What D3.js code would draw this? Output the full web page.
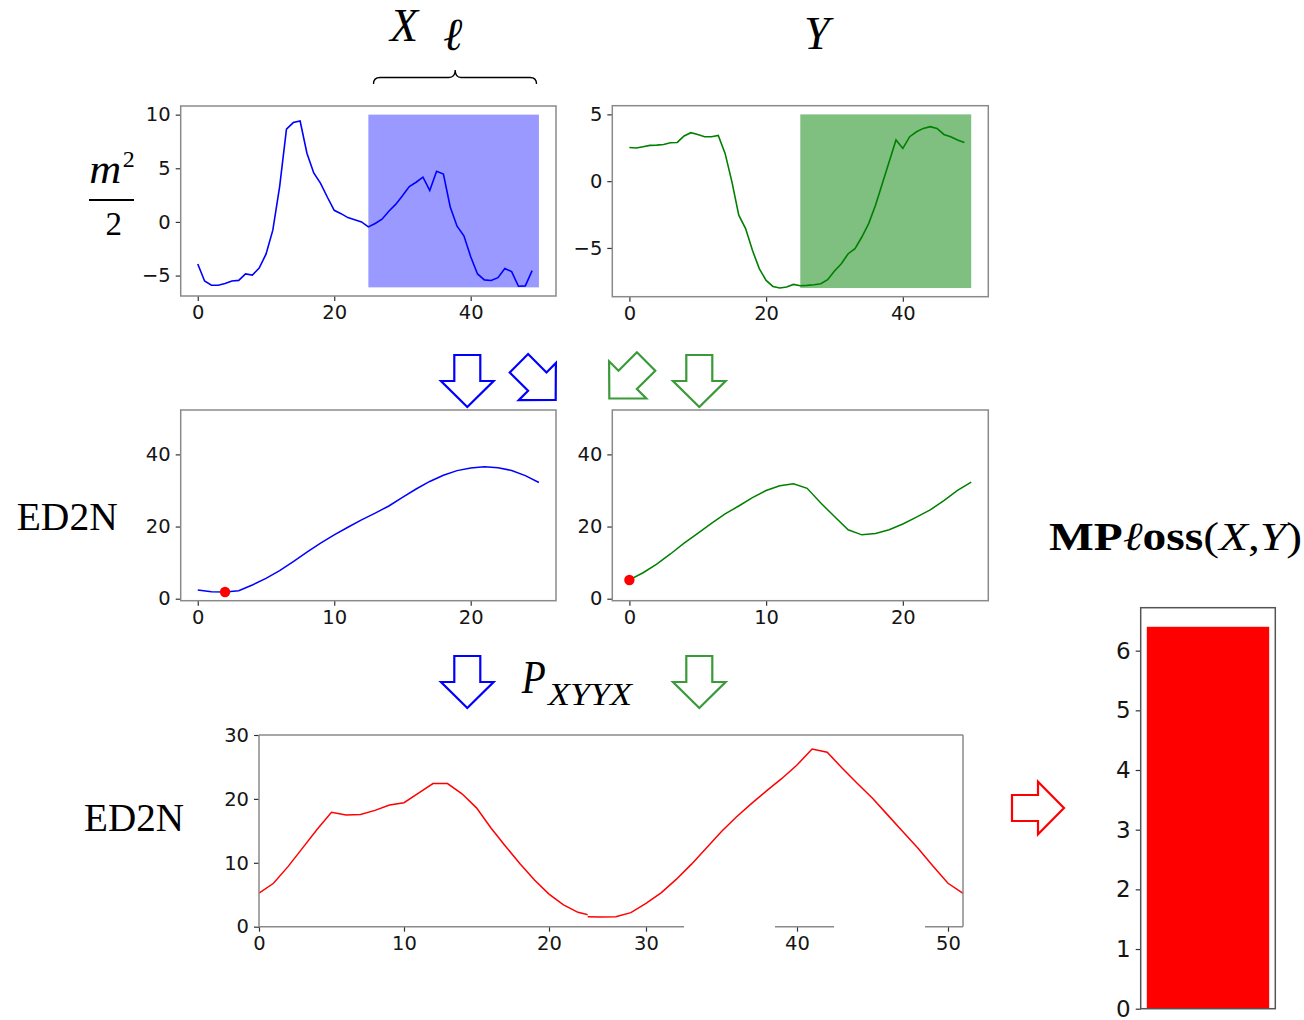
<!DOCTYPE html>
<html><head><meta charset="utf-8">
<script src="https://cdn.jsdelivr.net/npm/d3@7"></script>
<style>body{margin:0;background:#fff}svg{display:block}</style>
</head><body>
<svg id="c" width="1304" height="1020"></svg>
<script>
// ---------- data ----------
const seriesX = [-3.92,-5.5,-5.9,-5.9,-5.75,-5.5,-5.45,-4.85,-4.95,-4.3,-3.0,-0.77,3.3,8.64,9.26,9.4,6.4,4.57,3.6,2.3,1.08,0.77,0.4,0.2,0,-0.46,-0.15,0.25,1.0,1.63,2.44,3.3,3.7,4.17,2.93,4.72,4.47,1.39,-0.4,-1.3,-3.24,-4.85,-5.4,-5.46,-5.2,-4.35,-4.63,-6.0,-5.96,-4.54];
const seriesY = [2.52,2.48,2.58,2.68,2.7,2.75,2.88,2.9,3.38,3.63,3.5,3.33,3.33,3.43,2.08,-0.05,-2.55,-3.55,-5.18,-6.55,-7.43,-7.88,-8.0,-7.93,-7.73,-7.83,-7.8,-7.75,-7.68,-7.38,-6.73,-6.18,-5.43,-5.05,-4.18,-3.18,-1.8,-0.18,1.45,3.08,2.45,3.33,3.7,3.95,4.08,3.95,3.5,3.33,3.08,2.9];
const windowX = [25, 50];          // subsequence window (x range)
const windowYBlue = [-6.1, 10];
const windowYGreen = [-8.0, 5];
const ed2nBlue = [2.4,1.94,1.85,2.2,3.8,5.65,7.8,10.3,12.9,15.4,17.7,19.8,21.85,23.7,25.7,28.1,30.4,32.5,34.2,35.5,36.2,36.6,36.3,35.55,34.1,32.2];
const ed2nGreen = [5.2,7.2,9.6,12.4,15.4,18.1,20.9,23.5,25.7,28.0,30.0,31.3,31.85,30.6,26.5,22.8,19.1,17.7,18.1,19.1,20.7,22.6,24.6,27.2,30.0,32.3];
const minIndex = [2, 0];           // red dots: blue / green
const pxyyx = [5.24,6.8,9.4,12.3,15.2,17.9,17.5,17.55,18.2,19.05,19.4,20.9,22.4,22.4,20.8,18.6,15.45,12.6,9.85,7.3,5.1,3.4,2.25,1.7,1.55,1.5,1.55,1.51,1.57,2.2,3.65,5.3,7.4,9.75,12.3,14.9,17.2,19.3,21.3,23.2,25.3,27.8,27.3,24.8,22.4,20.1,17.5,14.9,12.3,9.5,6.8,5.2];
const mploss = [6.4];
const topXTicks = [0,20,40];
const topLeftYTicks = [-5,0,5,10];
const topRightYTicks = [-5,0,5];
const midXTicks = [0,10,20];
const midYTicks = [0,20,40];
const botXTicksLeft = [0,10,20];
const botXTicksRight = [30,40,50];
const botYTicks = [0,10,20,30];
const barYTicks = [0,1,2,3,4,5,6];

// ---------- helpers ----------
const svg = d3.select("#c");
const TICKFONT = "DejaVu Sans";
const TICKSIZE = 19.5;
const fmt = d => d < 0 ? "\u2212" + Math.abs(d) : String(d);
const FRAME = "#8a8a8a";

function styleAxis(g, size) {
  g.select(".domain").remove();
  g.selectAll(".tick line").attr("stroke", "#333").attr("stroke-width", 1.2);
  g.selectAll(".tick text").attr("font-family", TICKFONT).attr("font-size", size).attr("fill", "#151515");
}
function frame(l, r, t, b, color, w) {
  svg.append("rect").attr("x", l).attr("y", t).attr("width", r - l).attr("height", b - t)
    .attr("fill", "none").attr("stroke", color || FRAME).attr("stroke-width", w || 1.5);
}
function panel(o) {
  const x = d3.scaleLinear().domain(o.xd).range([o.l, o.r]);
  const y = d3.scaleLinear().domain(o.yd).range([o.b, o.t]);
  const gx = svg.append("g").attr("transform", `translate(0,${o.b})`)
    .call(d3.axisBottom(x).tickValues(o.xt).tickSize(5).tickPadding(4).tickFormat(fmt));
  styleAxis(gx, TICKSIZE);
  const gy = svg.append("g").attr("transform", `translate(${o.l},0)`)
    .call(d3.axisLeft(y).tickValues(o.yt).tickSize(5).tickPadding(5).tickFormat(fmt));
  styleAxis(gy, TICKSIZE);
  return {x, y};
}
function arrow(cx, cy, ang, color) {
  const pts = [[-13,-26],[13,-26],[13,0],[26.3,0],[0,26],[-26.3,0],[-13,0]];
  svg.append("path").attr("d", "M" + pts.map(p => p.join(",")).join("L") + "Z")
    .attr("transform", `translate(${cx},${cy}) rotate(${ang})`)
    .attr("fill", "none").attr("stroke", color).attr("stroke-width", 2.2).attr("stroke-linejoin", "miter");
}
function txt(x, y, s, size, opts) {
  opts = opts || {};
  const t = svg.append("text").attr("x", x).attr("y", y).text(s)
    .attr("font-family", opts.family || "Liberation Serif").attr("font-size", size)
    .attr("font-style", opts.italic ? "italic" : "normal").attr("font-weight", opts.bold ? "bold" : "normal")
    .attr("fill", "#000");
  if (opts.len) t.attr("textLength", opts.len).attr("lengthAdjust", "spacingAndGlyphs");
  return t;
}

// ---------- top-left: X ----------
{
  const p = panel({l:180.7, r:556, t:106, b:296, xd:[-2.5,52.5], yd:[-6.905,10.805], xt:topXTicks, yt:topLeftYTicks});
  svg.append("rect").attr("x", p.x(windowX[0])).attr("y", p.y(windowYBlue[1]))
    .attr("width", p.x(windowX[1]) - p.x(windowX[0])).attr("height", p.y(windowYBlue[0]) - p.y(windowYBlue[1]))
    .attr("fill", "#0000ff").attr("fill-opacity", 0.4);
  svg.append("path").datum(seriesX).attr("d", d3.line().x((d,i)=>p.x(i)).y(d=>p.y(d)))
    .attr("fill","none").attr("stroke","#0000ff").attr("stroke-width",1.6);
  frame(180.7, 556, 106, 296);
}
// ---------- top-right: Y ----------
{
  const p = panel({l:612.3, r:988.3, t:105.7, b:296.7, xd:[-2.5,52.5], yd:[-8.65,5.65], xt:topXTicks, yt:topRightYTicks});
  svg.append("rect").attr("x", p.x(windowX[0])).attr("y", p.y(windowYGreen[1]))
    .attr("width", p.x(windowX[1]) - p.x(windowX[0])).attr("height", p.y(windowYGreen[0]) - p.y(windowYGreen[1]))
    .attr("fill", "#008000").attr("fill-opacity", 0.5);
  svg.append("path").datum(seriesY).attr("d", d3.line().x((d,i)=>p.x(i)).y(d=>p.y(d)))
    .attr("fill","none").attr("stroke","#008000").attr("stroke-width",1.6);
  frame(612.3, 988.3, 105.7, 296.7);
}
// ---------- middle panels ----------
[[ed2nBlue, "#0000ff", 180.7, 556, minIndex[0]], [ed2nGreen, "#008000", 612.3, 988.3, minIndex[1]]].forEach(([data, col, l, r, mi]) => {
  const p = panel({l, r, t:410, b:600.7, xd:[-1.25,26.25], yd:[-0.55,52.3], xt:midXTicks, yt:midYTicks});
  svg.append("path").datum(data).attr("d", d3.line().x((d,i)=>p.x(i)).y(d=>p.y(d)))
    .attr("fill","none").attr("stroke",col).attr("stroke-width",1.5);
  svg.append("circle").attr("cx", p.x(mi)).attr("cy", p.y(data[mi])).attr("r", 5.2).attr("fill", "#ff0000");
  frame(l, r, 410, 600.7);
});

// ---------- bottom spliced panel ----------
{
  const yB = d3.scaleLinear().domain([0,30]).range([926.7,735]);
  const xA = d3.scaleLinear().domain([0,20]).range([259,549]);
  const xB = d3.scaleLinear().domain([30,50]).range([646,948]);
  const split = 587.7, L = 259, R = 963;
  const defs = svg.append("defs");
  defs.append("clipPath").attr("id","cA").append("rect").attr("x",L).attr("y",720).attr("width",split-L).attr("height",210);
  defs.append("clipPath").attr("id","cB").append("rect").attr("x",split).attr("y",720).attr("width",R-split+1).attr("height",210);
  svg.append("path").datum(pxyyx).attr("clip-path","url(#cA)").attr("d", d3.line().x((d,i)=>xA(i)).y(d=>yB(d)))
    .attr("fill","none").attr("stroke","#ff0000").attr("stroke-width",1.5);
  svg.append("path").datum(pxyyx).attr("clip-path","url(#cB)").attr("d", d3.line().x((d,i)=>xB(i)).y(d=>yB(d)))
    .attr("fill","none").attr("stroke","#ff0000").attr("stroke-width",1.5);
  const gy = svg.append("g").attr("transform",`translate(${L},0)`)
    .call(d3.axisLeft(yB).tickValues(botYTicks).tickSize(5).tickPadding(5).tickFormat(fmt));
  styleAxis(gy, TICKSIZE);
  const ga = svg.append("g").attr("transform","translate(0,926.7)")
    .call(d3.axisBottom(xA).tickValues(botXTicksLeft).tickSize(5).tickPadding(4).tickFormat(fmt));
  styleAxis(ga, TICKSIZE);
  const gb = svg.append("g").attr("transform","translate(0,926.7)")
    .call(d3.axisBottom(xB).tickValues(botXTicksRight).tickSize(5).tickPadding(4).tickFormat(fmt));
  styleAxis(gb, TICKSIZE);
  const seg = (x1,y1,x2,y2) => svg.append("line").attr("x1",x1).attr("y1",y1).attr("x2",x2).attr("y2",y2)
    .attr("stroke",FRAME).attr("stroke-width",1.5);
  seg(L,735,R,735); seg(L,735,L,926.7); seg(R,735,R,926.7);
  seg(L,926.7,684,926.7); seg(775,926.7,834,926.7); seg(925,926.7,R,926.7);
}

// ---------- bar panel ----------
{
  const x = d3.scaleLinear().domain([-0.44,0.44]).range([1140.7,1275.3]);
  const y = d3.scaleLinear().domain([0,6.72]).range([1008.7,607.7]);
  svg.selectAll(".bar").data(mploss).enter().append("rect")
    .attr("x", x(-0.4)).attr("width", x(0.4)-x(-0.4))
    .attr("y", d=>y(d)).attr("height", d=>y(0)-y(d)).attr("fill","#ff0000");
  const gy = svg.append("g").attr("transform","translate(1140.7,0)")
    .call(d3.axisLeft(y).tickValues(barYTicks).tickSize(5).tickPadding(5).tickFormat(fmt));
  styleAxis(gy, 23);
  frame(1140.7, 1275.3, 607.7, 1008.7, "#555", 1.5);
}

// ---------- arrows ----------
arrow(467.3, 381, 0, "#0000ff");
arrow(537.3, 381.6, -45, "#0000ff");
arrow(627.7, 379.9, 45, "#3a9a3a");
arrow(699.3, 381, 0, "#3a9a3a");
arrow(467.3, 682, 0, "#0000ff");
arrow(699.3, 682, 0, "#3a9a3a");
arrow(1038, 808, -90, "#ff0000");

// ---------- annotations ----------
txt(390, 40.7, "X", 46, {italic:true});
txt(443, 50, "\u2113", 46, {italic:true});
txt(804, 49, "Y", 46, {italic:true});
svg.append("path")
  .attr("d","M373.5,84 Q373.5,77.5 380,77.5 L449,77.5 Q455,77.5 455.2,70 Q455.4,77.5 461,77.5 L530,77.5 Q536.5,77.5 536.5,84")
  .attr("fill","none").attr("stroke","#000").attr("stroke-width",1.3);
txt(89.3, 183.3, "m", 41, {italic:true, len:32});
txt(122.7, 167, "2", 24);
svg.append("line").attr("x1",89).attr("x2",134).attr("y1",200).attr("y2",200).attr("stroke","#000").attr("stroke-width",2);
txt(105.5, 235, "2", 33);
txt(16.7, 530, "ED2N", 41, {len:101});
txt(84, 830.7, "ED2N", 41, {len:100});
txt(521.7, 693.3, "P", 47, {italic:true, len:24});
txt(548, 705, "XYYX", 31, {italic:true, len:84});
{
  const t = svg.append("text").attr("x", 1049).attr("y", 550).attr("font-family","Liberation Serif").attr("font-size",40)
    .attr("textLength", 253).attr("lengthAdjust","spacingAndGlyphs");
  t.append("tspan").attr("font-weight","bold").text("MP");
  t.append("tspan").attr("font-style","italic").text("\u2113");
  t.append("tspan").attr("font-weight","bold").text("oss");
  t.append("tspan").text("(");
  t.append("tspan").attr("font-style","italic").text("X");
  t.append("tspan").text(",");
  t.append("tspan").attr("font-style","italic").text("Y");
  t.append("tspan").text(")");
}
</script>
</body></html>
